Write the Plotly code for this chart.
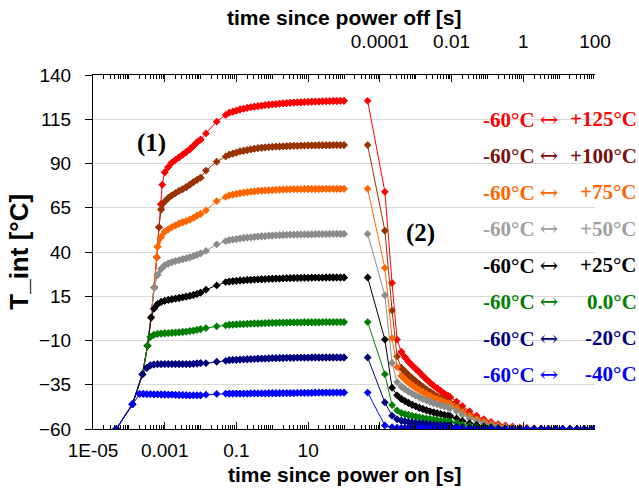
import numpy as np
import plotly.graph_objects as go

# ---------------------------------------------------------------------------
# Heating phase: time since power on, given as powers of ten [s]
# ---------------------------------------------------------------------------
RISE_EXP = [-4.35, -3.90, -3.62, -3.48, -3.38, -3.29, -3.22, -3.16, -3.11, -3.07]
RISE_VAL = [-60, -46, -29, -13, 3, 20, 37, 54, 67, 78]

ON_SEG1_EXP = [-3.7, -3.6, -3.5, -3.4, -3.3, -3.2, -3.1, -3.0, -2.9, -2.8, -2.7,
               -2.6, -2.5, -2.4, -2.3, -2.2, -2.1, -2.0]
ON_GAP_EXP = [-1.85, -1.55, -1.3]
ON_SEG2_EXP = [-1.2, -1.1, -1.0, -0.9, -0.8, -0.7, -0.6, -0.5, -0.4, -0.3, -0.2,
               -0.1, 0.0, 0.1, 0.2, 0.3, 0.4, 0.5, 0.6, 0.7, 0.8, 0.9, 1.0, 1.1,
               1.2, 1.3, 1.4, 1.5, 1.6, 1.7, 1.8, 1.9, 2.0]

# ---------------------------------------------------------------------------
# Cooling phase: time since power off, given as powers of ten [s]
# ---------------------------------------------------------------------------
OFF_EXP = [-4.34, -3.86, -3.66, -3.52, -3.40,
           -3.30, -3.20, -3.10, -3.00, -2.90, -2.80, -2.70, -2.60, -2.50, -2.40,
           -2.30, -2.20, -2.10, -2.04,
           -1.86, -1.70, -1.50, -1.30, -1.10, -0.90, -0.70, -0.50, -0.30, -0.10,
           0.10, 0.30, 0.50, 0.70, 0.90, 1.10, 1.30, 1.50, 1.70, 1.90, 2.00]
OFF_DENSE = (4, 19)   # slice of OFF_EXP sampled densely by the logger

# ---------------------------------------------------------------------------
# Junction temperature T_int [°C] for the eight cycling ranges
# ---------------------------------------------------------------------------
ON_125_SEG1 = [85, 88, 90.5, 92, 93.5, 95, 96.5, 98, 100, 102, 103.5]
ON_125_GAP = [107, 113.7, 117.4]
ON_125_SEG2 = [118.7, 119.3, 119.9, 120.5, 121.0, 121.4, 121.8, 122.1, 122.4, 122.7,
               123.0, 123.2, 123.4, 123.6, 123.8, 124.0, 124.1, 124.3, 124.4, 124.5,
               124.6, 124.7, 124.8, 124.9, 125.0, 125.0, 125.1, 125.2, 125.2, 125.3,
               125.3, 125.4, 125.4]
OFF_125 = [125.4, 74, 22.5, -9.5, -16.5,
           -19.5, -22.0, -24.0, -26.0, -28.0, -30.0, -32.0, -33.8, -35.5, -37.0,
           -38.5, -40.0, -41.3, -42.0,
           -44.5, -47.0, -50.0, -52.5, -54.5, -56.0, -57.2, -58.0, -58.6, -59.1,
           -59.4, -59.6, -59.8, -59.9, -60.0, -60.0, -60.0, -60.0, -60.0, -60.0, -60.0]

ON_100_SEG1 = [64, 68.5, 70.5, 72, 73.3, 74.5, 75.5, 76.7, 78, 79.5, 80.8, 82]
ON_100_GAP = [86, 91, 94]
ON_100_SEG2 = [95.0, 95.6, 96.2, 96.8, 97.2, 97.6, 98.0, 98.4, 98.7, 98.9, 99.1,
               99.3, 99.4, 99.5, 99.6, 99.7, 99.8, 99.9, 100.0, 100.0, 100.1, 100.1,
               100.2, 100.2, 100.2, 100.3, 100.3, 100.3, 100.3, 100.4, 100.4, 100.4,
               100.4]
OFF_100 = [100.4, 52, 7, -19, -25.5,
           -27.5, -29.5, -31.3, -33.0, -34.6, -36.2, -37.7, -39.0, -40.3, -41.5,
           -42.6, -43.6, -44.6, -45.2,
           -47.0, -49.3, -51.8, -53.8, -55.5, -56.8, -57.8, -58.5, -59.0, -59.4,
           -59.6, -59.8, -59.9, -60.0, -60.0, -60.0, -60.0, -60.0, -60.0, -60.0, -60.0]

ON_75_SEG1 = [43, 48.5, 51.5, 52.8, 54, 55, 56, 56.8, 57.5, 58.3, 59.3, 60.5, 61.5]
ON_75_GAP = [63.5, 68.7, 71.1]
ON_75_SEG2 = [72.0, 72.4, 72.8, 73.2, 73.5, 73.8, 74.1, 74.3, 74.5, 74.7, 74.8,
              74.9, 75.0, 75.1, 75.2, 75.3, 75.4, 75.4, 75.5, 75.5, 75.5, 75.6,
              75.6, 75.6, 75.6, 75.6, 75.7, 75.7, 75.7, 75.7, 75.7, 75.7, 75.7]
OFF_75 = [75.7, 31, -8.7, -25, -30,
          -32.0, -33.8, -35.3, -36.7, -38.0, -39.2, -40.3, -41.3, -42.3, -43.2,
          -44.0, -44.8, -45.5, -46.0,
          -48.0, -50.2, -52.5, -54.3, -55.8, -57.0, -58.0, -58.6, -59.1, -59.4,
          -59.6, -59.8, -59.9, -60.0, -60.0, -60.0, -60.0, -60.0, -60.0, -60.0, -60.0]

ON_50_SEG1 = [27, 30.5, 32.5, 33.5, 34.3, 34.9, 35.4, 35.9, 36.4, 37.0, 37.7, 38.4, 39.2]
ON_50_GAP = [40.6, 44.3, 46.1]
ON_50_SEG2 = [46.7, 47.0, 47.3, 47.6, 47.9, 48.1, 48.3, 48.5, 48.7, 48.9, 49.0,
              49.2, 49.3, 49.4, 49.5, 49.6, 49.7, 49.8, 49.8, 49.9, 49.9, 50.0,
              50.0, 50.0, 50.1, 50.1, 50.1, 50.1, 50.2, 50.2, 50.2, 50.2, 50.2]
OFF_50 = [50.2, 15.5, -22.7, -33.5, -36,
          -37.5, -38.8, -40.0, -41.1, -42.1, -43.0, -43.8, -44.6, -45.3, -46.0,
          -46.6, -47.2, -47.8, -48.2,
          -50.0, -52.0, -54.0, -55.6, -56.9, -57.9, -58.6, -59.1, -59.4, -59.6,
          -59.8, -59.9, -60.0, -60.0, -60.0, -60.0, -60.0, -60.0, -60.0, -60.0, -60.0]

ON_25_SEG1 = [8, 10.5, 11.8, 12.4, 12.9, 13.3, 13.7, 14.0, 14.4, 14.8, 15.2, 15.7, 16.3, 17.0]
ON_25_GAP = [18.7, 21.1, 23.0]
ON_25_SEG2 = [23.3, 23.5, 23.7, 23.9, 24.0, 24.2, 24.3, 24.4, 24.5, 24.6, 24.7,
              24.8, 24.9, 25.0, 25.0, 25.1, 25.2, 25.2, 25.3, 25.3, 25.4, 25.4,
              25.4, 25.5, 25.5, 25.5, 25.5, 25.6, 25.6, 25.6, 25.6, 25.6, 25.6]
OFF_25 = [25.6, -9.5, -36.7, -41, -43,
          -44.2, -45.3, -46.3, -47.2, -48.0, -48.7, -49.4, -50.0, -50.6, -51.1,
          -51.6, -52.0, -52.4, -52.7,
          -54.0, -55.4, -56.7, -57.7, -58.5, -59.0, -59.4, -59.6, -59.8, -59.9,
          -60.0, -60.0, -60.0, -60.0, -60.0, -60.0, -60.0, -60.0, -60.0, -60.0, -60.0]

ON_0_SEG1 = [-8, -6.8, -6.3, -6.1, -5.9, -5.8, -5.7, -5.5, -5.4, -5.2, -5.0, -4.7,
             -4.4, -4.0, -3.6]
ON_0_GAP = [-3.0, -2.0, -1.5]
ON_0_SEG2 = [-1.1, -1.0, -0.9, -0.8, -0.7, -0.6, -0.5, -0.4, -0.4, -0.3, -0.2,
             -0.1, 0.0, 0.0, 0.1, 0.1, 0.1, 0.2, 0.2, 0.2, 0.2, 0.3, 0.3, 0.3,
             0.3, 0.3, 0.4, 0.4, 0.4, 0.4, 0.4, 0.4, 0.4]
OFF_0 = [0.4, -29, -46.5, -49.5, -51,
         -51.6, -52.1, -52.6, -53.0, -53.4, -53.8, -54.1, -54.4, -54.7, -55.0,
         -55.3, -55.5, -55.7, -55.9,
         -56.6, -57.4, -58.2, -58.8, -59.2, -59.5, -59.7, -59.8, -59.9, -60.0,
         -60.0, -60.0, -60.0, -60.0, -60.0, -60.0, -60.0, -60.0, -60.0, -60.0, -60.0]

ON_M20_SEG1 = [-25.5, -24.0, -23.6, -23.4, -23.4, -23.3, -23.3, -23.3, -23.3, -23.3,
               -23.3, -23.3, -23.3, -23.2, -23.0, -22.8]
ON_M20_GAP = [-22.8, -22.0, -21.5]
ON_M20_SEG2 = [-21.1, -21.0, -20.9, -20.8, -20.7, -20.6, -20.5, -20.4, -20.3, -20.2,
               -20.2, -20.1, -20.0, -20.0, -19.9, -19.9, -19.8, -19.8, -19.8, -19.7,
               -19.7, -19.7, -19.7, -19.6, -19.6, -19.6, -19.6, -19.6, -19.6, -19.6,
               -19.6, -19.6, -19.6]
OFF_M20 = [-19.6, -45, -52.5, -54.5, -55.3,
           -55.7, -56.0, -56.3, -56.6, -56.8, -57.0, -57.2, -57.4, -57.6, -57.8,
           -57.9, -58.0, -58.1, -58.2,
           -58.6, -59.0, -59.3, -59.5, -59.7, -59.8, -59.9, -60.0, -60.0, -60.0,
           -60.0, -60.0, -60.0, -60.0, -60.0, -60.0, -60.0, -60.0, -60.0, -60.0, -60.0]

ON_M40_SEG1 = [-40.2, -40.2, -40.3, -40.3, -40.4, -40.4, -40.5, -40.5, -40.6, -40.6,
               -40.7, -40.8, -40.8, -40.9, -41.0, -41.0, -41.0, -41.0]
ON_M40_GAP = [-40.6, -40.2, -40.0]
ON_M40_SEG2 = [-40.0, -40.0, -40.0, -40.0, -40.0, -40.0, -39.9, -39.9, -39.9, -39.9,
               -39.9, -39.8, -39.8, -39.8, -39.8, -39.7, -39.7, -39.7, -39.7, -39.6,
               -39.6, -39.6, -39.6, -39.6, -39.5, -39.5, -39.5, -39.5, -39.4, -39.4,
               -39.4, -39.4, -39.4]
OFF_M40 = [-39.4, -58.0, -59.0, -59.3, -59.4,
           -59.5, -59.5, -59.5, -59.5, -59.5, -59.5, -59.5, -59.5, -59.5, -59.5,
           -59.5, -59.5, -59.5, -59.5,
           -59.6, -59.7, -59.8, -59.9, -60.0, -60.0, -60.0, -60.0, -60.0, -60.0,
           -60.0, -60.0, -60.0, -60.0, -60.0, -60.0, -60.0, -60.0, -60.0, -60.0, -60.0]

LOW_LABEL = "-60°C"
HIGH_LABELS = ["+125°C", "+100°C", "+75°C", "+50°C", "+25°C", "0.0°C", "-20°C", "-40°C"]

# number of shared rise points used by each range before it levels off
RISE_COUNT = [10, 8, 7, 6, 5, 4, 3, 2]

SERIES = [
    (ON_125_SEG1, ON_125_GAP, ON_125_SEG2, OFF_125),
    (ON_100_SEG1, ON_100_GAP, ON_100_SEG2, OFF_100),
    (ON_75_SEG1, ON_75_GAP, ON_75_SEG2, OFF_75),
    (ON_50_SEG1, ON_50_GAP, ON_50_SEG2, OFF_50),
    (ON_25_SEG1, ON_25_GAP, ON_25_SEG2, OFF_25),
    (ON_0_SEG1, ON_0_GAP, ON_0_SEG2, OFF_0),
    (ON_M20_SEG1, ON_M20_GAP, ON_M20_SEG2, OFF_M20),
    (ON_M40_SEG1, ON_M40_GAP, ON_M40_SEG2, OFF_M40),
]

MARK_COLORS = ["#FF0000", "#993300", "#FF6600", "#8C8C8C",
               "#000000", "#008000", "#000080", "#0000FF"]
TEXT_COLORS = ["#FF0000", "#7A1010", "#FF6600", "#A0A0A0",
               "#000000", "#008000", "#000080", "#0000FF"]

fig = go.Figure()


def pts(xaxis, exps, vals, col, dense=False):
    """One run of logged samples; densely logged runs get a heavier stroke."""
    return go.Scatter(
        x=10.0 ** np.array(exps), y=vals, xaxis=xaxis, yaxis="y",
        mode="lines+markers",
        line=dict(color=col, width=3.5 if dense else 1),
        marker=dict(symbol="diamond", size=6, color=col, line=dict(width=0)),
        showlegend=False, hoverinfo="skip")


for i, (s1, gap, s2, off) in enumerate(SERIES):
    k = RISE_COUNT[i]
    col = MARK_COLORS[i]
    seg1_exp = ON_SEG1_EXP[-len(s1):]
    seg2_exp = ON_SEG2_EXP[:len(s2)]
    on_exp = RISE_EXP[:k] + seg1_exp + ON_GAP_EXP + seg2_exp
    on_val = RISE_VAL[:k] + s1 + gap + s2
    # full heating record, then heavier strokes over the densely logged runs
    fig.add_trace(pts("x", on_exp, on_val, col))
    fig.add_trace(pts("x", seg1_exp, s1, col, dense=True))
    fig.add_trace(pts("x", seg2_exp, s2, col, dense=True))
    # cooling record
    off_exp = OFF_EXP[:len(off)]
    fig.add_trace(pts("x2", off_exp, off, col))
    a, b = OFF_DENSE
    fig.add_trace(pts("x2", off_exp[a:b], off[a:b], col, dense=True))


def minor_ticks(lo, hi, major_exps):
    vals = []
    for e in range(lo, hi):
        for d in range(1, 10):
            if d == 1 and e in major_exps:
                continue
            vals.append(d * 10.0 ** e)
    return vals


bottom_major = list(range(-5, 10, 2))
top_major = list(range(-12, 3, 2))
bottom_text = ["1E-05", "0.001", "0.1", "10", "", "", "", ""]
top_text = ["", "", "", "", "0.0001", "0.01", "1", "100"]

tick_font = dict(family="Liberation Sans, Arial, sans-serif", size=19, color="black")
title_font = dict(family="Liberation Sans, Arial, sans-serif", size=21, color="black")
serif_font = "Liberation Serif, DejaVu Serif, Times New Roman, serif"

fig.update_layout(
    width=639, height=489,
    margin=dict(l=93, r=44, t=75, b=60),
    paper_bgcolor="white", plot_bgcolor="white",
    xaxis=dict(
        type="log", range=[-5, 9], showgrid=False, zeroline=False,
        showline=True, linecolor="black", linewidth=1,
        tickmode="array", tickvals=[10.0 ** e for e in bottom_major], ticktext=bottom_text,
        ticks="inside", ticklen=7, tickcolor="black", tickfont=tick_font,
        ticklabelstandoff=4,
        minor=dict(tickmode="array", tickvals=minor_ticks(-5, 9, bottom_major),
                   ticks="inside", ticklen=4, tickcolor="black", showgrid=False),
    ),
    xaxis2=dict(
        type="log", range=[-12, 2], overlaying="x", side="top", anchor="y",
        showgrid=False, zeroline=False,
        showline=True, linecolor="black", linewidth=1,
        tickmode="array", tickvals=[10.0 ** e for e in top_major], ticktext=top_text,
        ticks="inside", ticklen=7, tickcolor="black", tickfont=tick_font,
        ticklabelstandoff=18,
        minor=dict(tickmode="array", tickvals=minor_ticks(-12, 2, top_major),
                   ticks="inside", ticklen=4, tickcolor="black", showgrid=False),
    ),
    yaxis=dict(
        range=[-60, 140], tickmode="linear", tick0=-60, dtick=25,
        showgrid=True, gridcolor="#D9D9D9", gridwidth=1, zeroline=False,
        showline=True, linecolor="black", linewidth=1,
        ticks="outside", ticklen=7, tickcolor="black", tickfont=tick_font,
        ticklabelstandoff=10,
    ),
)

# white panel behind the range labels (hides the grid there)
fig.add_shape(type="rect", xref="paper", yref="y", x0=0.741, x1=1.0, y0=-38, y1=119,
              fillcolor="white", line=dict(width=0), layer="between")

arrow = '<span style="font-family:DejaVu Serif; font-size:22px">↔</span>'
for i, txt in enumerate(HIGH_LABELS):
    yv = 115.0 - 20.6 * i
    fig.add_annotation(x=0.773, y=yv, xref="paper", yref="y",
                       text="<b>" + LOW_LABEL + "</b> " + arrow,
                       showarrow=False, xanchor="left", yanchor="middle",
                       font=dict(family=serif_font, size=21, color=TEXT_COLORS[i]))
    fig.add_annotation(x=1.088, y=yv, xref="paper", yref="y", text="<b>" + txt + "</b>",
                       showarrow=False, xanchor="right", yanchor="middle",
                       font=dict(family=serif_font, size=21, color=TEXT_COLORS[i]))

fig.add_annotation(x=-3.38, y=101.5, xref="x", yref="y", text="<b>(1)</b>",
                   showarrow=False, font=dict(family=serif_font, size=25, color="black"))
fig.add_annotation(x=4.12, y=50.6, xref="x", yref="y", text="<b>(2)</b>",
                   showarrow=False, font=dict(family=serif_font, size=25, color="black"))

fig.add_annotation(x=0.5, y=1.163, xref="paper", yref="paper",
                   text="<b>time since power off [s]</b>", showarrow=False,
                   xanchor="center", yanchor="middle", font=title_font)
fig.add_annotation(x=0.5, y=-0.128, xref="paper", yref="paper",
                   text="<b>time since power on [s]</b>", showarrow=False,
                   xanchor="center", yanchor="middle", font=title_font)
fig.add_annotation(x=-0.148, y=0.5, xref="paper", yref="paper",
                   text="<b>T_int [°C]</b>", showarrow=False, textangle=-90,
                   xanchor="center", yanchor="middle",
                   font=dict(family="Liberation Sans, Arial, sans-serif", size=26,
                             color="black"))

fig.write_html("out.html")
